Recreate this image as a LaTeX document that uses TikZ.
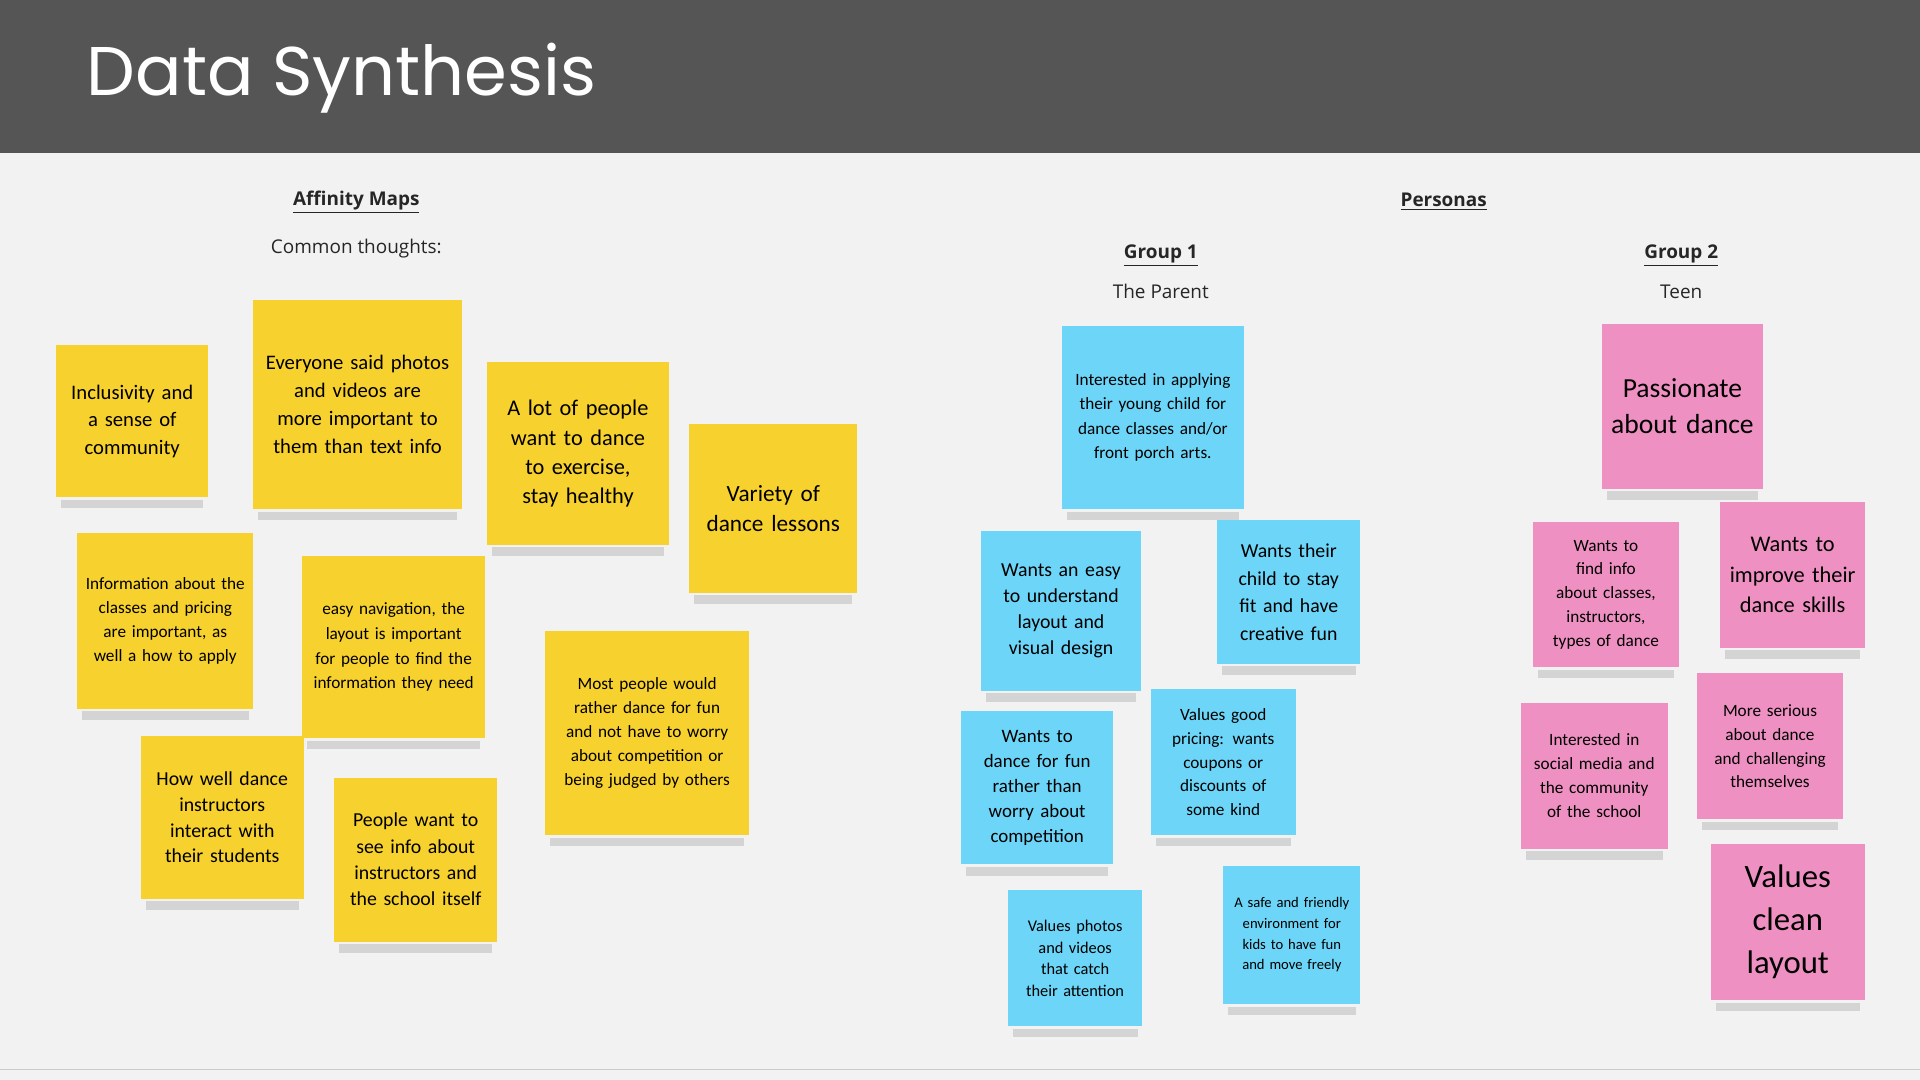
\documentclass[tikz,border=0pt]{standalone}
\usepackage{fontspec}
\setmainfont{Carlito}
\newfontfamily\titlefont{Poppins}
\newfontfamily\labfont{Open Sans}
\definecolor{yel}{HTML}{F7D12E}
\definecolor{blu}{HTML}{6DD5F7}
\definecolor{pnk}{HTML}{EE90C2}
\definecolor{bgc}{HTML}{F2F2F2}
\definecolor{hdr}{HTML}{555555}
\newcommand{\stk}[9]{%
 \fill[black,opacity=0.12] (#3+4,#6+2) rectangle (#5-4,#6+9);
 \node[fill=#2,inner sep=1pt,align=center,minimum width={(#5-#3)*0.025cm},minimum height={(#6-#4)*0.025cm},text width={(#5-#3-14)*0.025cm},font=\fontsize{#7}{#8}\selectfont] (#1) at ({(#3+#5)/2},{(#4+#6)/2}) {#9};}
\begin{document}
\begin{tikzpicture}[x=0.025cm,y=-0.025cm,lab/.style={font=\labfont\fontsize{11}{13}\selectfont,text=black!85}]
\useasboundingbox (0,0) rectangle (1568,882);
\fill[bgc] (0,0) rectangle (1568,882);
\fill[hdr] (0,0) rectangle (1568,125);
\draw[black!20] (0,873) -- (1568,873);
\node[anchor=west,text=white,font=\titlefont\fontsize{40}{44}\selectfont] (title) at (66,64) {Data Synthesis};
\node[lab,font=\labfont\bfseries\fontsize{11}{13}\selectfont] (am) at (291,165) {\underline{Affinity Maps}};
\node[lab] (ct) at (291,203) {Common thoughts:};
\node[lab,font=\labfont\bfseries\fontsize{11}{13}\selectfont] (pe) at (1179,165) {\underline{Personas}};
\node[lab,font=\labfont\bfseries\fontsize{11}{13}\selectfont] (g1) at (948,209) {\underline{Group 1}};
\node[lab] (g1t) at (948,238) {The Parent};
\node[lab,font=\labfont\bfseries\fontsize{11}{13}\selectfont] (g2) at (1373,209) {\underline{Group 2}};
\node[lab] (g2t) at (1373,238) {Teen};
% yellow
\stk{y1}{yel}{46}{282}{170}{406}{12}{16}{Inclusivity and a sense of community}
\stk{y2}{yel}{207}{245}{377}{416}{12}{16.3}{Everyone said photos and videos are more important to them than text info}
\stk{y3}{yel}{398}{296}{546}{445}{13}{17}{A lot of people want to dance to exercise, stay healthy}
\stk{y4}{yel}{563}{346}{700}{484}{13.5}{17.5}{Variety of dance lessons}
\stk{y5}{yel}{63}{435}{207}{579}{10}{14}{Information about the classes and pricing are important, as well a how to apply}
\stk{y6}{yel}{247}{454}{396}{603}{10}{14.3}{easy navigation, the layout is important for people to find the information they need}
\stk{y7}{yel}{445}{515}{612}{682}{10}{14}{Most people would rather dance for fun and not have to worry about competition or being judged by others}
\stk{y8}{yel}{115}{601}{248}{734}{11.5}{15}{How well dance instructors interact with their students}
\stk{y9}{yel}{273}{635}{406}{769}{11.5}{15.3}{People want to see info about instructors and the school itself}
% blue
\stk{b1}{blu}{867}{266}{1016}{416}{10}{14.2}{Interested in applying their young child for dance classes and/or front porch arts.}
\stk{b2}{blu}{801}{434}{932}{564}{11.5}{15}{Wants an easy to understand layout and visual design}
\stk{b3}{blu}{994}{425}{1111}{542}{11.5}{16}{Wants their child to stay fit and have creative fun}
\stk{b4}{blu}{785}{581}{909}{706}{11}{14.5}{Wants to dance for fun rather than worry about competition}
\stk{b5}{blu}{940}{563}{1058}{682}{10}{13.7}{Values good pricing: wants coupons or discounts of some kind}
\stk{b6}{blu}{823}{727}{933}{838}{9.5}{12.5}{Values photos and videos that catch their attention}
\stk{b7}{blu}{999}{707}{1111}{820}{8.5}{12}{A safe and friendly environment for kids to have fun and move freely}
% pink
\stk{p1}{pnk}{1308}{265}{1440}{399}{16}{21}{Passionate about dance}
\stk{p2}{pnk}{1405}{410}{1523}{529}{13}{17.5}{Wants to improve their dance skills}
\stk{p3}{pnk}{1252}{426}{1371}{545}{10}{13.8}{Wants to find info about classes, instructors, types of dance}
\stk{p4}{pnk}{1386}{550}{1505}{669}{10}{13.8}{More serious about dance and challenging themselves}
\stk{p5}{pnk}{1242}{574}{1362}{693}{10}{13.8}{Interested in social media and the community of the school}
\stk{p6}{pnk}{1397}{689}{1523}{817}{19}{25}{Values clean layout}
\end{tikzpicture}
\end{document}
